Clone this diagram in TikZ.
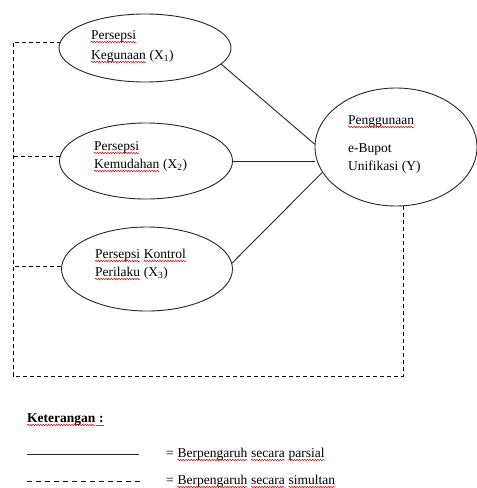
\documentclass[tikz,border=0pt]{standalone}
\usepackage{fontspec}
\setmainfont{Liberation Serif}
\usetikzlibrary{shapes.geometric,decorations.pathmorphing}
\begin{document}
\begin{tikzpicture}[x=1pt,y=-1pt,
  oval/.style={draw=black!85, line width=0.9pt, ellipse, inner sep=0pt},
  txt/.style={anchor=base west, inner sep=0pt, font=\fontsize{13.5}{16}\selectfont},
  nxt/.style={txt, xshift=3.4pt},
  solidline/.style={draw=black!85, line width=0.9pt},
  dashline/.style={draw=black, line width=0.9pt, dash pattern=on 4pt off 3pt},
  legdash/.style={draw=black, line width=0.8pt, dash pattern=on 5pt off 4pt},
  spell/.style={draw=red!85!black, line width=0.5pt, decorate,
    decoration={snake, amplitude=0.7pt, segment length=2.6pt}}]
\useasboundingbox (0,0) rectangle (477,488);
\newcommand\wave[1]{\draw[spell] ([yshift=-3pt]#1.base west) -- ([yshift=-3pt]#1.base east);}
% ellipses
\node[oval, minimum width=172pt, minimum height=68pt] (e1) at (145,48) {};
\node[oval, minimum width=173pt, minimum height=76pt] (e2) at (146,161) {};
\node[oval, minimum width=171pt, minimum height=84pt] (e3) at (147,269) {};
\node[oval, minimum width=162pt, minimum height=118pt] (y) at (396,147) {};
% texts
\node[txt] (t1a) at (91,39) {Persepsi};
\node[txt] (t1b) at (91,59) {Kegunaan};
\node[nxt] (t1c) at (t1b.base east) {(X\textsubscript{1})};
\node[txt] (t2a) at (94,150) {Persepsi};
\node[txt] (t2b) at (94,168) {Kemudahan};
\node[nxt] (t2c) at (t2b.base east) {(X\textsubscript{2})};
\node[txt] (t3a) at (95,258) {Persepsi};
\node[nxt] (t3b) at (t3a.base east) {Kontrol};
\node[txt] (t3c) at (95,276) {Perilaku};
\node[nxt] (t3d) at (t3c.base east) {(X\textsubscript{3})};
\node[txt] (tya) at (348,124) {Penggunaan};
\node[txt] (tyb) at (348,152) {e-Bupot};
\node[txt] (tyc) at (348,170) {Unifikasi (Y)};
% partial effects
\draw[solidline] (e1.-12) -- (y.178.6);
\draw[solidline] (e2.east) -- (e2.east -| y.west);
\draw[solidline] (e3.4) -- (y.199.5);
% simultaneous effect frame
\coordinate (fBL) at (13,376);
\draw[dashline] (y.-83) |- (fBL) |- (e1.176);
\draw[dashline] (e2.177) -- (e2.177 -| fBL);
\draw[dashline] (e3.178) -- (e3.178 -| fBL);
% legend
\node[txt, font=\fontsize{13.5}{16}\selectfont\bfseries] (ket) at (27,422) {Keterangan};
\node[txt, font=\fontsize{13.5}{16}\selectfont\bfseries, xshift=3.4pt] (ketc) at (ket.base east) {:};
\coordinate (ls1) at (27,454);
\coordinate (ls2) at (139,454);
\coordinate (ld1) at (27,481);
\coordinate (ld2) at (141,481);
\draw[solidline] (ls1) -- (ls2);
\draw[legdash] (ld1) -- (ld2);
\node[txt] (lt1) at (166,457) {=};
\node[nxt] (lt1a) at (lt1.base east) {Berpengaruh};
\node[nxt] (lt1b) at (lt1a.base east) {secara};
\node[nxt] (lt1c) at (lt1b.base east) {parsial};
\node[txt] (lt2) at (166,484) {=};
\node[nxt] (lt2a) at (lt2.base east) {Berpengaruh};
\node[nxt] (lt2b) at (lt2a.base east) {secara};
\node[nxt] (lt2c) at (lt2b.base east) {simultan};
% spell-check marks
\wave{t1a}\wave{t1b}\wave{t2a}\wave{t2b}\wave{t3a}\wave{t3b}\wave{t3c}\wave{tya}
\wave{ket}
\wave{lt1a}\wave{lt1b}\wave{lt1c}\wave{lt2a}\wave{lt2b}\wave{lt2c}
\draw[draw=blue!70, line width=0.6pt] ([yshift=-3pt,xshift=-3pt]ketc.base west) -- ([yshift=-3pt]ketc.base east);
\end{tikzpicture}
\end{document}
